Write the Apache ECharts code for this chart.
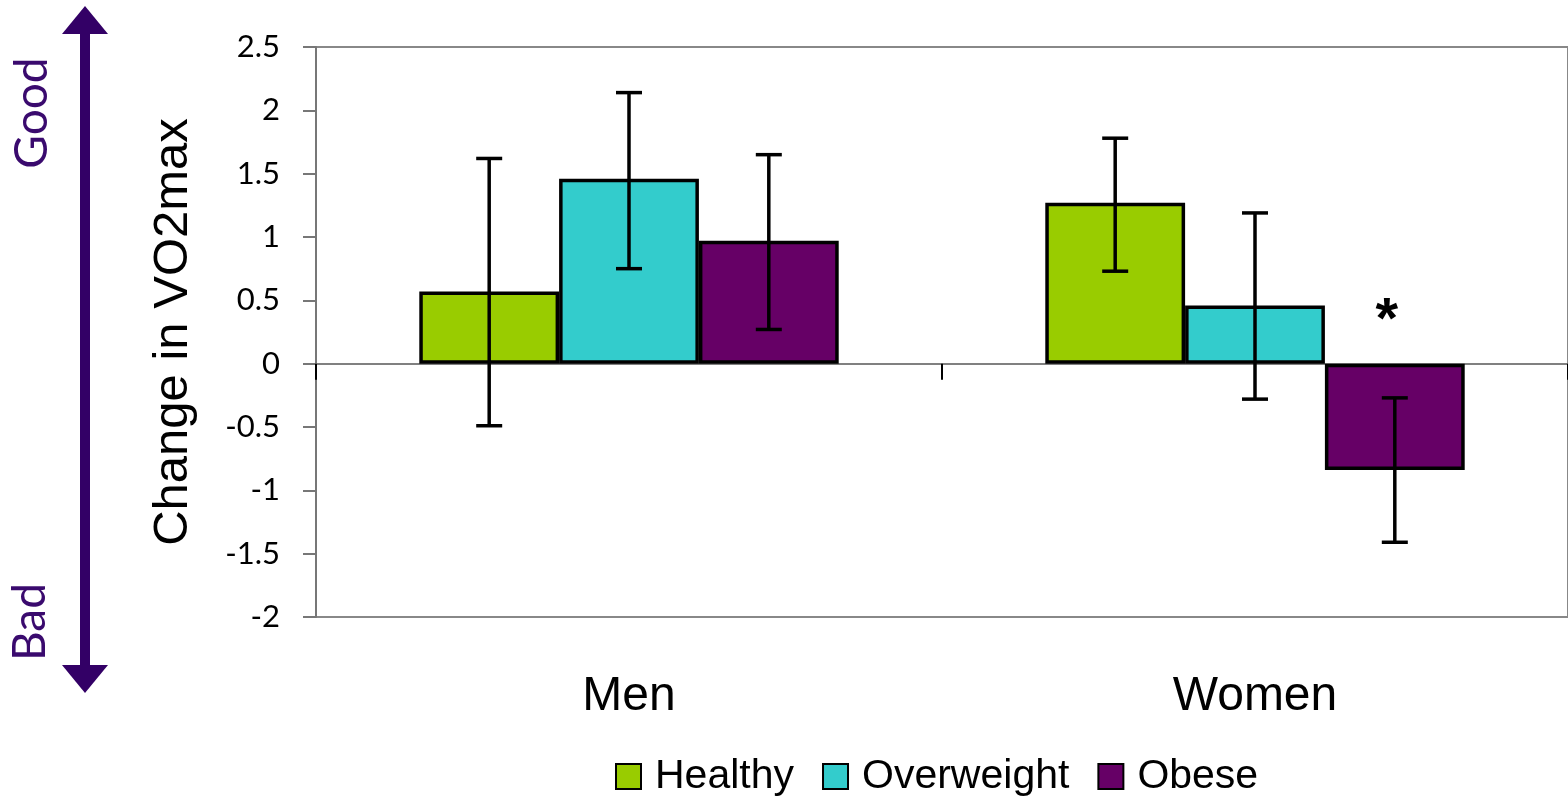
<!DOCTYPE html>
<html>
<head>
<meta charset="utf-8">
<title>Change in VO2max</title>
<script src="https://cdn.jsdelivr.net/npm/echarts@6/dist/echarts.min.js"></script>
<style>
  html, body { margin: 0; padding: 0; background: #fff; }
  #chart { width: 1568px; height: 798px; }
</style>
</head>
<body>
<div id="chart"></div>
<script>
// Groups and tick labels
var categories = ['Men', 'Women'];
var yTicks = { min: -2, max: 2.5, step: 0.5 };

// Mean change in VO2max per group, with lower / upper error limits
var healthyMean = [0.57, 1.27];
var healthyLow = [-0.49, 0.73];
var healthyHigh = [1.62, 1.78];

var overweightMean = [1.46, 0.46];
var overweightLow = [0.75, -0.28];
var overweightHigh = [2.14, 1.19];

var obeseMean = [0.97, -0.84];
var obeseLow = [0.27, -1.41];
var obeseHigh = [1.65, -0.27];

// Significance markers drawn over the obese bars
var obeseSig = ['', '*'];

var seriesNames = ['Healthy', 'Overweight', 'Obese'];
var seriesColors = ['#99CC00', '#33CCCC', '#660066'];
var means = [healthyMean, overweightMean, obeseMean];
var lows = [healthyLow, overweightLow, obeseLow];
var highs = [healthyHigh, overweightHigh, obeseHigh];
var sigs = [['', ''], ['', ''], obeseSig];

var CATEGORY_GAP = 0.33;

var chart = echarts.init(document.getElementById('chart'));

function errorBarRenderer(seriesIdx) {
  return function (params, api) {
    var cat = api.value(0);
    var band = api.size([1, 0])[0];
    var barW = band * (1 - CATEGORY_GAP) / 3;
    var off = (seriesIdx - 1) * barW;
    var hi = api.coord([cat, api.value(2)]);
    var lo = api.coord([cat, api.value(1)]);
    var x = hi[0] + off;
    var cap = 13;
    var style = { stroke: '#000', lineWidth: 3.5 };
    var children = [
      { type: 'line', shape: { x1: x, y1: hi[1], x2: x, y2: lo[1] }, style: style },
      { type: 'line', shape: { x1: x - cap, y1: hi[1], x2: x + cap, y2: hi[1] }, style: style },
      { type: 'line', shape: { x1: x - cap, y1: lo[1], x2: x + cap, y2: lo[1] }, style: style }
    ];
    var mark = sigs[seriesIdx][params.dataIndex];
    if (mark) {
      var zero = api.coord([cat, 0]);
      children.push({
        type: 'text',
        style: {
          text: mark, x: x - 8, y: zero[1] - 42,
          fill: '#000', font: 'bold 58px "Liberation Sans", Arial, sans-serif',
          align: 'center', verticalAlign: 'middle'
        }
      });
    }
    return { type: 'group', children: children };
  };
}

var series = [];
seriesNames.forEach(function (name, i) {
  series.push({
    name: name,
    type: 'bar',
    xAxisIndex: 0,
    barGap: '0%',
    barCategoryGap: (CATEGORY_GAP * 100) + '%',
    data: means[i],
    itemStyle: { color: seriesColors[i], borderColor: '#000', borderWidth: 3.5 },
    emphasis: { disabled: true },
    z: 2
  });
});
seriesNames.forEach(function (name, i) {
  series.push({
    name: name + ' error',
    type: 'custom',
    xAxisIndex: 0,
    renderItem: errorBarRenderer(i),
    encode: { x: 0, y: [1, 2] },
    data: categories.map(function (c, k) { return [k, lows[i][k], highs[i][k]]; }),
    z: 5
  });
});

var purple = '#330066';
var option = {
  animation: false,
  grid: {
    left: 316, right: -4, top: 47, bottom: 181,
    show: true, borderColor: '#888', borderWidth: 2, backgroundColor: 'transparent'
  },
  legend: {
    data: seriesNames,
    left: 610, top: 751,
    itemWidth: 25, itemHeight: 25, itemGap: 28,
    icon: 'rect',
    textStyle: {
      fontFamily: '"Liberation Sans", Arial, sans-serif',
      fontSize: 41, color: '#000', padding: [0, 0, 0, 9]
    }
  },
  xAxis: [
    {
      // category names along the bottom of the plot
      type: 'category', data: categories, position: 'bottom',
      axisLine: { show: false, onZero: false }, axisTick: { show: false },
      axisLabel: {
        margin: 56, fontSize: 48, color: '#000',
        fontFamily: '"Liberation Sans", Arial, sans-serif'
      }
    },
    {
      // baseline through zero with a divider tick between groups
      type: 'category', data: categories, position: 'bottom',
      axisLine: { onZero: true, onZeroAxisIndex: 0, lineStyle: { color: '#808080', width: 2 } },
      axisTick: { show: true, length: 16, lineStyle: { color: '#000', width: 2 } },
      axisLabel: { show: false }
    }
  ],
  yAxis: {
    type: 'value',
    min: yTicks.min, max: yTicks.max, interval: yTicks.step,
    name: 'Change in VO2max',
    nameLocation: 'middle',
    nameGap: 118,
    nameTextStyle: {
      fontSize: 49, color: '#000',
      fontFamily: '"Liberation Sans", Arial, sans-serif'
    },
    axisLine: { show: true, lineStyle: { color: '#777', width: 2 } },
    axisTick: { show: true, length: 13, lineStyle: { color: '#777', width: 2 } },
    splitLine: { show: false },
    axisLabel: {
      margin: 36, fontSize: 31, color: '#000',
      fontFamily: 'Lato, "Open Sans", sans-serif'
    }
  },
  graphic: [
    // double-headed arrow: good at the top, bad at the bottom
    { type: 'rect', shape: { x: 80, y: 30, width: 10, height: 638 }, style: { fill: purple } },
    { type: 'polygon', shape: { points: [[62, 34], [108, 34], [85, 6]] }, style: { fill: purple } },
    { type: 'polygon', shape: { points: [[62, 665], [108, 665], [85, 693]] }, style: { fill: purple } },
    {
      type: 'text', x: 32, y: 113, rotation: Math.PI / 2,
      style: {
        text: 'Good', fill: '#3a0a6e', font: '46px Lato, "Open Sans", sans-serif',
        align: 'center', verticalAlign: 'middle'
      }
    },
    {
      type: 'text', x: 30, y: 622, rotation: Math.PI / 2,
      style: {
        text: 'Bad', fill: '#3a0a6e', font: '46px Lato, "Open Sans", sans-serif',
        align: 'center', verticalAlign: 'middle'
      }
    }
  ],
  series: series
};

chart.setOption(option);
</script>
</body>
</html>
